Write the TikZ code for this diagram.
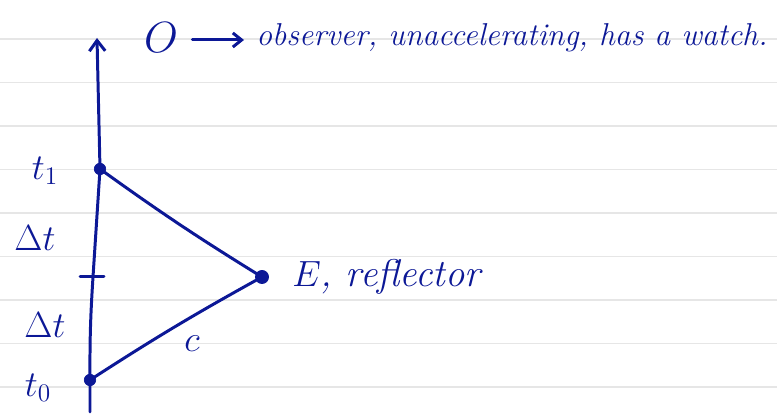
\documentclass[tikz,border=0pt]{standalone}
\usepackage{tikz}
\usetikzlibrary{arrows.meta, positioning, calc}
\definecolor{ink}{RGB}{12,24,150}
\definecolor{ruling}{RGB}{230,230,230}
\tikzstyle{event} = [circle, fill=ink, draw=ink, inner sep=0pt, minimum size=6.5pt]
\tikzstyle{worldline} = [ink, line width=1.7pt, line cap=round, line join=round]
\tikzstyle{lbl} = [text=ink, font=\fontsize{20}{22}\selectfont\itshape, inner sep=0pt]

\begin{document}
\begin{tikzpicture}[x=0.02cm, y=0.02cm]
  \useasboundingbox (0,0) rectangle (777,418);
  % ruled paper
  \foreach \k in {0,...,8}
    \draw[ruling, line width=1pt] (0,{379-43.5*\k}) -- (777,{379-43.5*\k});

  % events on the observer's worldline
  \coordinate (bot) at (90,6);
  \node[event] (t0) at (90,38) {};
  \coordinate (mid) at (93,141);
  \node[event] (t1) at (100,249) {};
  \coordinate (top) at (97,380);
  \node[event, minimum size=7.5pt] (E) at (262,141) {};

  \draw[worldline] (bot) -- (t0.center) to[bend left=2] (mid) -- (t1.center);
  \draw[worldline, -{Straight Barb[length=6pt, width=9pt]}] (t1.center) -- (top);
  \draw[worldline] ($(mid)+(-13,0)$) -- ($(mid)+(11,0)$);

  % light signal
  \draw[worldline] (t0.center) to[bend left=2] (E.center);
  \draw[worldline] (E.center) to[bend left=2] (t1.center);

  % labels
  \node[lbl] (lt1) at (45,247) {$t_1$};
  \node[lbl] (ldt1) at (35,180) {$\Delta t$};
  \node[lbl] (ldt0) at (45,93) {$\Delta t$};
  \node[lbl] (lt0) at (38,30) {$t_0$};
  \node[lbl] (lc) at (192,74) {$c$};
  \node[lbl, anchor=west, font=\fontsize{22}{24}\selectfont\itshape] (lE) at (292,141) {$E$, reflector};

  \node[lbl, font=\fontsize{27}{28}\selectfont] (O) at (161,380) {$O$};
  \node[lbl, anchor=west, font=\fontsize{18}{20}\selectfont\itshape] (desc) at (256,380) {observer, unaccelerating, has a watch.};
  \draw[worldline, -{Straight Barb[length=5pt, width=8pt]}] ($(O.east)+(14,-2)$) -- ($(desc.west)+(-12,-2)$);
\end{tikzpicture}
\end{document}
